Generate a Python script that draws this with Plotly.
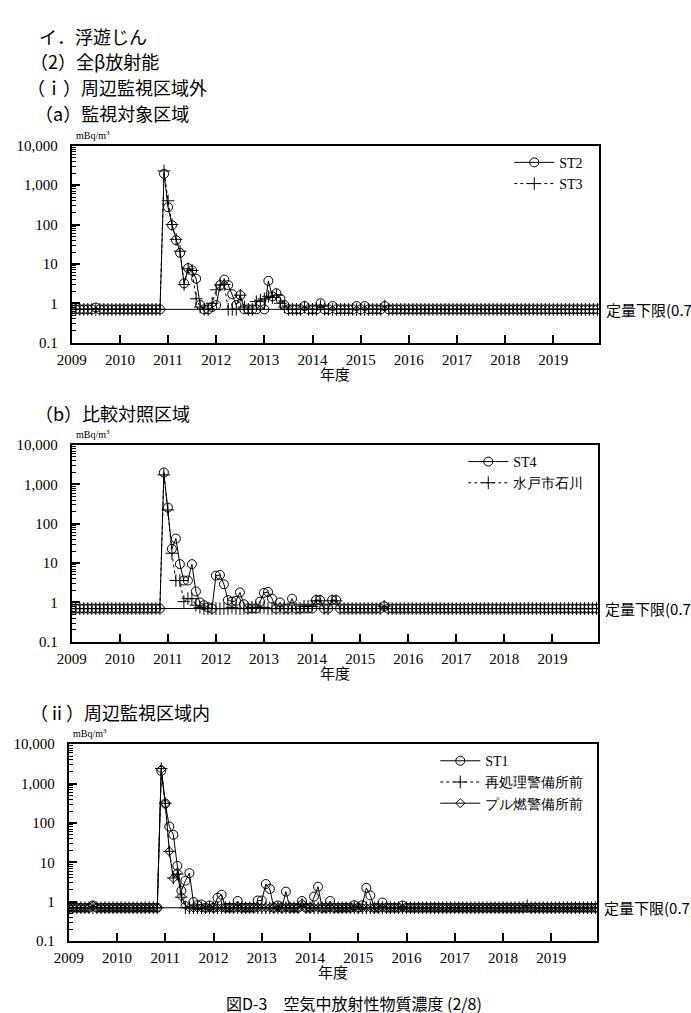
import plotly.graph_objects as go

W, H = 691, 1013
SERIF = "Liberation Serif"
CJK = "Noto Sans CJK JP"

# ---------------- data (monthly, fiscal years Apr..Mar, FY2009-FY2019) ----------------
YEAR_START = 2009
N_MONTHS = 132
TICK_YEARS = [2009, 2010, 2011, 2012, 2013, 2014, 2015, 2016, 2017, 2018, 2019]
TICK_YEAR_TEXT = ["2009", "2010", "2011", "2012", "2013", "2014", "2015", "2016", "2017", "2018", "2019"]
Y_TICK_VALS = [0.1, 1, 10, 100, 1000, 10000]
Y_TICK_TEXT = ["0.1", "1", "10", "100", "1,000", "10,000"]
Y_MINOR_VALS = [0.2, 0.3, 0.4, 0.5, 0.6, 0.7, 0.8, 0.9,
                2, 3, 4, 5, 6, 7, 8, 9,
                20, 30, 40, 50, 60, 70, 80, 90,
                200, 300, 400, 500, 600, 700, 800, 900,
                2000, 3000, 4000, 5000, 6000, 7000, 8000, 9000]
LIMIT = 0.7  # 定量下限

ST2 = [
    0.7, 0.7, 0.7, 0.7, 0.7, 0.7, 0.78, 0.7, 0.7, 0.7, 0.7, 0.7,
    0.7, 0.7, 0.7, 0.7, 0.7, 0.7, 0.7, 0.7, 0.7, 0.7, 0.7, 1950,
    275, 96, 40, 19, 3.2, 7.8, 6.8, 4.2, 0.91, 0.7, 0.7, 0.8,
    0.9, 2.9, 4.0, 2.9, 1.7, 0.9, 1.6, 0.7, 0.7, 0.7, 0.7, 0.9,
    0.7, 3.7, 1.5, 1.8, 1.3, 0.9, 0.7, 0.7, 0.7, 0.7, 0.85, 0.7,
    0.7, 0.7, 1.0, 0.7, 0.7, 0.85, 0.7, 0.7, 0.7, 0.7, 0.7, 0.85,
    0.7, 0.85, 0.7, 0.7, 0.7, 0.7, 0.85, 0.7, 0.7, 0.7, 0.7, 0.7,
    0.7, 0.7, 0.7, 0.7, 0.7, 0.7, 0.7, 0.7, 0.7, 0.7, 0.7, 0.7,
    0.7, 0.7, 0.7, 0.7, 0.7, 0.7, 0.7, 0.7, 0.7, 0.7, 0.7, 0.7,
    0.7, 0.7, 0.7, 0.7, 0.7, 0.7, 0.7, 0.7, 0.7, 0.7, 0.7, 0.7,
    0.7, 0.7, 0.7, 0.7, 0.7, 0.7, 0.7, 0.7, 0.7, 0.7, 0.7, 0.7,
]
ST3 = [
    0.7, 0.7, 0.7, 0.7, 0.7, 0.7, 0.7, 0.7, 0.7, 0.7, 0.7, 0.7,
    0.7, 0.7, 0.7, 0.7, 0.7, 0.7, 0.7, 0.7, 0.7, 0.7, 0.7, 2300,
    400, 100, 42, 21, 3.0, 7.5, 6.8, 1.3, 0.8, 0.7, 0.7, 1.0,
    2.2, 2.9, 3.0, 0.7, 0.7, 0.7, 1.6, 0.8, 0.7, 0.7, 1.1, 1.2,
    1.3, 1.5, 1.4, 1.6, 1.0, 0.8, 0.7, 0.7, 0.7, 0.7, 0.8, 0.7,
    0.7, 0.7, 0.85, 0.7, 0.7, 0.7, 0.7, 0.7, 0.7, 0.7, 0.7, 0.7,
    0.7, 0.7, 0.7, 0.7, 0.7, 0.7, 0.85, 0.7, 0.7, 0.7, 0.7, 0.7,
    0.7, 0.7, 0.7, 0.7, 0.7, 0.7, 0.7, 0.7, 0.7, 0.7, 0.7, 0.7,
    0.7, 0.7, 0.7, 0.7, 0.7, 0.7, 0.7, 0.7, 0.7, 0.7, 0.7, 0.7,
    0.7, 0.7, 0.7, 0.7, 0.7, 0.7, 0.7, 0.7, 0.7, 0.7, 0.7, 0.7,
    0.7, 0.7, 0.7, 0.7, 0.7, 0.7, 0.7, 0.7, 0.7, 0.7, 0.7, 0.7,
]
ST4 = [
    0.7, 0.7, 0.7, 0.7, 0.7, 0.7, 0.7, 0.7, 0.7, 0.7, 0.7, 0.7,
    0.7, 0.7, 0.7, 0.7, 0.7, 0.7, 0.7, 0.7, 0.7, 0.7, 0.7, 2000,
    257, 23, 42, 9.4, 3.6, 3.6, 9.4, 1.9, 1.0, 0.85, 0.75, 0.7,
    4.8, 5.0, 2.9, 1.15, 1.05, 1.1, 1.8, 0.9, 0.7, 0.7, 0.7, 1.05,
    1.75, 1.85, 1.25, 0.7, 1.0, 0.7, 0.7, 1.25, 0.7, 0.7, 0.7, 0.7,
    0.7, 1.15, 1.15, 0.7, 0.7, 1.15, 1.15, 0.7, 0.7, 0.7, 0.7, 0.7,
    0.7, 0.7, 0.7, 0.7, 0.7, 0.7, 0.8, 0.7, 0.7, 0.7, 0.7, 0.7,
    0.7, 0.7, 0.7, 0.7, 0.7, 0.7, 0.7, 0.7, 0.7, 0.7, 0.7, 0.7,
    0.7, 0.7, 0.7, 0.7, 0.7, 0.7, 0.7, 0.7, 0.7, 0.7, 0.7, 0.7,
    0.7, 0.7, 0.7, 0.7, 0.7, 0.7, 0.7, 0.7, 0.7, 0.7, 0.7, 0.7,
    0.7, 0.7, 0.7, 0.7, 0.7, 0.7, 0.7, 0.7, 0.7, 0.7, 0.7, 0.7,
]
MITO_ISHIKAWA = [
    0.7, 0.7, 0.7, 0.7, 0.7, 0.7, 0.7, 0.7, 0.7, 0.7, 0.7, 0.7,
    0.7, 0.7, 0.7, 0.7, 0.7, 0.7, 0.7, 0.7, 0.7, 0.7, 0.7, 1740,
    224, 17.8, 3.6, 3.6, 1.05, 1.25, 1.25, 0.85, 0.75, 0.7, 0.7, 0.7,
    0.7, 0.7, 0.7, 0.7, 0.75, 0.7, 0.7, 0.7, 0.7, 0.75, 0.75, 0.75,
    0.75, 0.7, 0.7, 0.7, 0.7, 0.7, 0.7, 0.7, 0.7, 0.7, 0.8, 0.8,
    0.8, 1.1, 1.1, 0.7, 0.7, 1.1, 1.1, 0.7, 0.7, 0.7, 0.7, 0.7,
    0.7, 0.7, 0.7, 0.7, 0.7, 0.7, 0.8, 0.7, 0.7, 0.7, 0.7, 0.7,
    0.7, 0.7, 0.7, 0.7, 0.7, 0.7, 0.7, 0.7, 0.7, 0.7, 0.7, 0.7,
    0.7, 0.7, 0.7, 0.7, 0.7, 0.7, 0.7, 0.7, 0.7, 0.7, 0.7, 0.7,
    0.7, 0.7, 0.7, 0.7, 0.7, 0.7, 0.7, 0.7, 0.7, 0.7, 0.7, 0.7,
    0.7, 0.7, 0.7, 0.7, 0.7, 0.7, 0.7, 0.7, 0.7, 0.7, 0.7, 0.7,
]
ST1 = [
    0.7, 0.7, 0.7, 0.7, 0.7, 0.7, 0.8, 0.7, 0.7, 0.7, 0.7, 0.7,
    0.7, 0.7, 0.7, 0.7, 0.7, 0.7, 0.7, 0.7, 0.7, 0.7, 0.7, 2100,
    310, 81, 50, 8.1, 1.9, 3.4, 5.3, 0.98, 0.81, 0.85, 0.7, 0.8,
    0.7, 1.26, 1.5, 0.7, 0.7, 0.7, 1.04, 0.7, 0.7, 0.7, 0.7, 1.07,
    1.07, 2.8, 2.1, 0.7, 0.8, 0.7, 1.8, 0.7, 0.7, 0.7, 1.04, 0.7,
    0.7, 1.35, 2.4, 0.7, 0.7, 1.04, 0.7, 0.7, 0.7, 0.7, 0.7, 0.81,
    0.7, 0.81, 2.24, 1.44, 0.7, 0.7, 0.95, 0.7, 0.7, 0.7, 0.7, 0.8,
    0.7, 0.7, 0.7, 0.7, 0.7, 0.7, 0.7, 0.7, 0.7, 0.7, 0.7, 0.7,
    0.7, 0.7, 0.7, 0.7, 0.7, 0.7, 0.7, 0.7, 0.7, 0.7, 0.7, 0.7,
    0.7, 0.7, 0.7, 0.7, 0.7, 0.7, 0.7, 0.7, 0.7, 0.7, 0.7, 0.7,
    0.7, 0.7, 0.7, 0.7, 0.7, 0.7, 0.7, 0.7, 0.7, 0.7, 0.7, 0.7,
]
SAISHORI = [
    0.7, 0.7, 0.7, 0.7, 0.7, 0.7, 0.7, 0.7, 0.7, 0.7, 0.7, 0.7,
    0.7, 0.7, 0.7, 0.7, 0.7, 0.7, 0.7, 0.7, 0.7, 0.7, 0.7, 2400,
    315, 19, 4.0, 5.0, 1.3, 0.7, 0.7, 0.7, 0.7, 0.7, 0.7, 0.7,
    0.7, 0.7, 0.7, 0.7, 0.7, 0.7, 0.7, 0.7, 0.7, 0.7, 0.7, 0.7,
    0.7, 0.7, 0.7, 0.7, 0.7, 0.7, 0.7, 0.7, 0.7, 0.7, 0.85, 0.7,
    0.7, 0.7, 0.7, 0.7, 0.7, 0.7, 0.7, 0.7, 0.7, 0.7, 0.7, 0.7,
    0.7, 0.7, 0.7, 0.7, 0.7, 0.7, 0.7, 0.7, 0.7, 0.7, 0.7, 0.7,
    0.7, 0.7, 0.7, 0.7, 0.7, 0.7, 0.7, 0.7, 0.7, 0.7, 0.7, 0.7,
    0.7, 0.7, 0.7, 0.7, 0.7, 0.7, 0.7, 0.7, 0.7, 0.7, 0.7, 0.7,
    0.7, 0.7, 0.7, 0.7, 0.7, 0.7, 0.78, 0.7, 0.7, 0.7, 0.7, 0.7,
    0.7, 0.7, 0.7, 0.7, 0.7, 0.7, 0.7, 0.7, 0.7, 0.7, 0.7, 0.7,
]
PURUNEN = [
    0.7, 0.7, 0.7, 0.7, 0.7, 0.7, 0.8, 0.7, 0.7, 0.7, 0.7, 0.7,
    0.7, 0.7, 0.7, 0.7, 0.7, 0.7, 0.7, 0.7, 0.7, 0.7, 0.7, 2300,
    310, 19, 3.9, 5.5, 1.35, 0.81, 0.7, 0.7, 0.7, 0.7, 0.7, 0.7,
    0.7, 0.7, 0.7, 0.7, 0.7, 0.7, 0.7, 0.7, 0.7, 0.7, 0.7, 0.7,
    0.7, 0.7, 0.7, 0.7, 0.7, 0.7, 0.7, 0.7, 0.7, 0.7, 0.9, 0.7,
    0.7, 0.7, 0.7, 0.7, 0.7, 0.7, 0.7, 0.7, 0.7, 0.7, 0.7, 0.7,
    0.7, 0.7, 0.7, 0.7, 0.7, 0.7, 0.7, 0.7, 0.7, 0.7, 0.7, 0.7,
    0.7, 0.7, 0.7, 0.7, 0.7, 0.7, 0.7, 0.7, 0.7, 0.7, 0.7, 0.7,
    0.7, 0.7, 0.7, 0.7, 0.7, 0.7, 0.7, 0.7, 0.7, 0.7, 0.7, 0.7,
    0.7, 0.7, 0.7, 0.7, 0.7, 0.7, 0.7, 0.7, 0.7, 0.7, 0.7, 0.7,
    0.7, 0.7, 0.7, 0.7, 0.7, 0.7, 0.7, 0.7, 0.7, 0.7, 0.7, 0.7,
]

# month positions on a year axis
X = [YEAR_START + i / 12 for i in range(N_MONTHS)]
X_RANGE = [2009, 2019.95]


def pxx(p):
    return p / W


def pxy(p):
    return 1 - p / H


STYLE = {
    "circle": dict(symbol="circle-open", size=9, dash="solid"),
    "cross": dict(symbol="cross-thin-open", size=9, dash="dot"),
    "diamond": dict(symbol="diamond-open", size=7, dash="solid"),
}

panels = [
    dict(top=140, bottom=340, left=58, right=597, legend_right=586,
         series=[("ST2", ST2, "circle"), ("ST3", ST3, "cross")],
         header="（a）監視対象区域", header_x=18),
    dict(top=444, bottom=644, left=58, right=596, legend_right=586,
         series=[("ST4", ST4, "circle"), ("水戸市石川", MITO_ISHIKAWA, "cross")],
         header="（b）比較対照区域", header_x=18),
    dict(top=748, bottom=948, left=55, right=595, legend_right=586,
         series=[("ST1", ST1, "circle"), ("再処理警備所前", SAISHORI, "cross"),
                 ("プル燃警備所前", PURUNEN, "diamond")],
         header="（ⅱ）周辺監視区域内", header_x=13),
]

fig = go.Figure()
annotations = []
layout_axes = {}

for k, p in enumerate(panels, start=1):
    sfx = "" if k == 1 else str(k)
    xa, ya = "x" + sfx, "y" + sfx
    leg = "legend" + sfx

    # quantification limit line
    fig.add_trace(go.Scatter(
        x=X_RANGE, y=[LIMIT, LIMIT], mode="lines",
        line=dict(color="black", width=1), showlegend=False,
        hoverinfo="skip", xaxis=xa, yaxis=ya))

    for name, vals, sty in p["series"]:
        st = STYLE[sty]
        fig.add_trace(go.Scatter(
            x=X, y=vals, name=name, mode="lines+markers",
            line=dict(color="black", width=1, dash=st["dash"]),
            marker=dict(symbol=st["symbol"], size=st["size"], color="black",
                        line=dict(color="black", width=1)),
            xaxis=xa, yaxis=ya, legend=leg))

    layout_axes["xaxis" + sfx] = dict(
        domain=[pxx(p["left"]), pxx(p["right"])], anchor=ya,
        range=X_RANGE, tickmode="array", tickvals=TICK_YEARS, ticktext=TICK_YEAR_TEXT,
        ticks="inside", ticklen=8, tickwidth=1.5, tickcolor="black",
        showline=True, linecolor="black", linewidth=2, mirror=True,
        showgrid=False, zeroline=False, ticklabelstandoff=2,
        tickfont=dict(family=SERIF, size=15, color="black"))
    layout_axes["yaxis" + sfx] = dict(
        domain=[pxy(p["bottom"]), pxy(p["top"])], anchor=xa,
        type="log", range=[-1, 4], tickmode="array",
        tickvals=Y_TICK_VALS, ticktext=Y_TICK_TEXT,
        ticks="inside", ticklen=8, tickwidth=1.5, tickcolor="black",
        minor=dict(tickmode="array", tickvals=Y_MINOR_VALS, ticks="inside",
                   ticklen=4, tickwidth=1, tickcolor="black", showgrid=False),
        ticklabelstandoff=9,
        showline=True, linecolor="black", linewidth=2, mirror=True,
        showgrid=False, zeroline=False,
        tickfont=dict(family=SERIF, size=15, color="black"))

    layout_axes[leg] = dict(
        x=pxx(p["legend_right"]), xanchor="right",
        y=pxy(p["top"] + 1), yanchor="top",
        bgcolor="rgba(0,0,0,0)", borderwidth=0, itemwidth=40,
        tracegroupgap=0,
        font=dict(family=SERIF, size=14, color="black"))

    # header, unit, limit label, axis title
    annotations.append(dict(text=p["header"], x=pxx(p["header_x"]), y=pxy(p["top"] - 33),
                            xref="paper", yref="paper", xanchor="left", yanchor="middle",
                            showarrow=False, font=dict(family=CJK, size=18, color="black")))
    annotations.append(dict(text="mBq/m<sup>3</sup>", x=pxx(p["left"] + 2), y=pxy(p["top"] - 11),
                            xref="paper", yref="paper", xanchor="left", yanchor="middle",
                            showarrow=False, font=dict(family=SERIF, size=10, color="black")))
    annotations.append(dict(text="定量下限(0.7)", x=pxx(p["right"] + 5), y=-0.1549,
                            xref="paper", yref=ya, xanchor="left", yanchor="middle",
                            showarrow=False, font=dict(family=CJK, size=15, color="black")))
    annotations.append(dict(text="年度", x=pxx((p["left"] + p["right"]) / 2), y=pxy(p["bottom"] + 31),
                            xref="paper", yref="paper", xanchor="center", yanchor="middle",
                            showarrow=False, font=dict(family=CJK, size=15, color="black")))

# top headers
for txt, x, y in [("イ．浮遊じん", 22, 28), ("（2）全β放射能", 13, 54), ("（ｉ）周辺監視区域外", 10, 80)]:
    annotations.append(dict(text=txt, x=pxx(x), y=pxy(y), xref="paper", yref="paper",
                            xanchor="left", yanchor="middle", showarrow=False,
                            font=dict(family=CJK, size=18, color="black")))

annotations.append(dict(text="図D-3　空気中放射性物質濃度 (2/8)", x=pxx(347), y=pxy(1011),
                        xref="paper", yref="paper", xanchor="center", yanchor="middle",
                        showarrow=False, font=dict(family=CJK, size=16, color="black")))

fig.update_layout(
    width=W, height=H, margin=dict(l=0, r=0, t=0, b=0),
    paper_bgcolor="white", plot_bgcolor="white",
    showlegend=True, annotations=annotations, **layout_axes)

fig.write_html("out.html")
